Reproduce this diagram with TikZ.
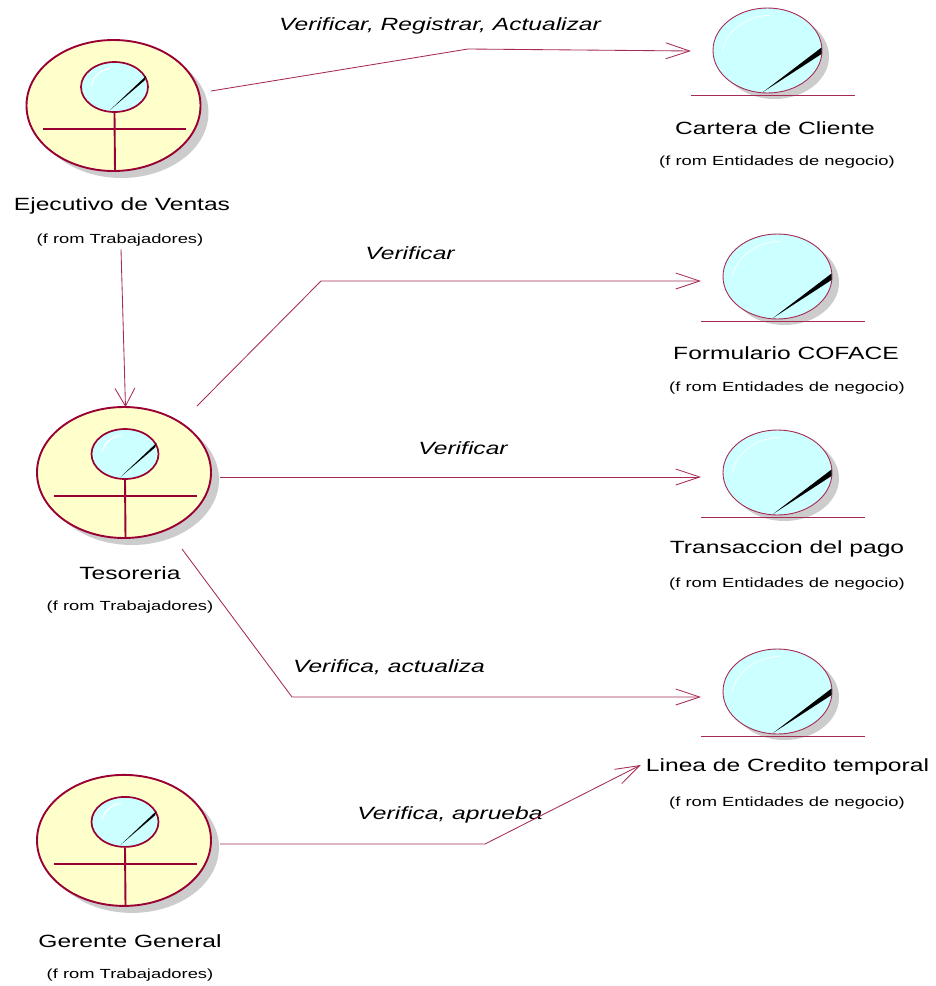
\documentclass[tikz,border=0pt]{standalone}
\usepackage{fontspec}
\setmainfont[FakeStretch=1.39]{Liberation Sans}
\usetikzlibrary{shapes.geometric,arrows.meta}
\definecolor{linec}{HTML}{990033}
\definecolor{thinc}{HTML}{A52A55}
\definecolor{yel}{HTML}{FFFFCC}
\definecolor{cya}{HTML}{CCFFFF}
\definecolor{shad}{HTML}{CCCCCC}
\tikzset{
  actorbody/.style={ellipse,draw=linec,line width=1.9pt,fill=yel,inner sep=0pt,minimum width=174pt,minimum height=131pt},
  actorhead/.style={ellipse,draw=linec,line width=1.7pt,fill=cya,inner sep=0pt,minimum width=67pt,minimum height=50pt},
  entitybody/.style={ellipse,draw=thinc,line width=0.9pt,fill=cya,inner sep=0pt,minimum width=109pt,minimum height=85pt},
  shadowshape/.style={ellipse,fill=shad,inner sep=0pt},
  limb/.style={draw=linec,line width=1.9pt},
  baseline/.style={draw=thinc,line width=1pt},
  conn/.style={draw=thinc,line width=0.85pt},
  connarrow/.style={conn,-{Straight Barb[length=24pt,width=16pt,line width=0.85pt]}},
  vertarrow/.style={conn,-{Straight Barb[length=18pt,width=20pt,line width=0.85pt]}},
  titletext/.style={font=\fontsize{17.7}{20}\selectfont,inner sep=0pt,anchor=center},
  fromtext/.style={font=\fontsize{13.2}{16}\selectfont,inner sep=0pt,anchor=center},
  rolelabel/.style={font=\itshape\fontsize{17.7}{20}\selectfont,inner sep=0pt,anchor=center},
}
% name, x, y of the body's centre
\newcommand{\actorfig}[3]{%
  \node[shadowshape,minimum width=174pt,minimum height=131pt] at (#2+8,#3+7) {};
  \node[actorbody] (#1) at (#2,#3) {};
  \node[actorhead] (#1h) at (#2+1,#3-18.5) {};
  \draw[white,line width=1.2pt] (#2-22,#3-20) .. controls (#2-20,#3-30) and (#2-12,#3-36) .. (#2-3,#3-37);
  \fill[black] (#2-3.5,#3+4.5) -- (#2+32.5,#3-29.5) -- (#2+31,#3-25) -- cycle;
  \draw[limb] (#2-70.5,#3+23.5) -- (#2+72.5,#3+23.5);
  \draw[limb] (#1h.south) -- (#2+1.5,#3+65.5);
}
\newcommand{\entityfig}[3]{%
  \node[shadowshape,minimum width=109pt,minimum height=85pt] at (#2+7,#3+6) {};
  \node[entitybody] (#1) at (#2,#3) {};
  \draw[white,line width=0.7pt] (#2-45,#3) .. controls (#2-42,#3-18) and (#2-22,#3-35) .. (#2+2,#3-35);
  \fill[black] (#2-4.5,#3+41.5) -- (#2+54,#3-3) -- (#2+54,#3+3.5) -- cycle;
  \draw[baseline] (#2-76.5,#3+44.5) -- (#2+87.5,#3+44.5);
}
\begin{document}
\begin{tikzpicture}[x=1pt,y=-1pt]
\useasboundingbox (0,0) rectangle (936,986);
\actorfig{aeje}{113.5}{105.5}
\actorfig{ates}{124}{472.5}
\actorfig{ager}{124}{840.4}
\entityfig{ecar}{767.5}{50.5}
\entityfig{efor}{777.5}{276.5}
\entityfig{etra}{777.5}{472.5}
\entityfig{elin}{777.5}{691.5}
\node[titletext] (teje) at (122,206) {Ejecutivo de Ventas};
\node[fromtext] (feje) at (120,240) {(f rom Trabajadores)};
\node[titletext] (ttes) at (130,573) {Tesoreria};
\node[fromtext] (ftes) at (130,607) {(f rom Trabajadores)};
\node[titletext] (tger) at (130,941) {Gerente General};
\node[fromtext] (fger) at (130,975) {(f rom Trabajadores)};
\node[titletext] (tcar) at (775,128) {Cartera de Cliente};
\node[fromtext] (fcar) at (777,162) {(f rom Entidades de negocio)};
\node[titletext] (tfor) at (786,353) {Formulario COFACE};
\node[fromtext] (ffor) at (787,388) {(f rom Entidades de negocio)};
\node[titletext] (ttra) at (787,549) {Transaccion del pago};
\node[fromtext] (ftra) at (787,584) {(f rom Entidades de negocio)};
\node[titletext] (tlin) at (787.5,767) {Linea de Credito temporal};
\node[fromtext] (flin) at (787,803) {(f rom Entidades de negocio)};
\node[rolelabel] (r1) at (440,26) {Verificar, Registrar, Actualizar};
\node[rolelabel] (r2) at (410,253) {Verificar};
\node[rolelabel] (r3) at (463,448) {Verificar};
\node[rolelabel] (r4) at (389,667) {Verifica, actualiza};
\node[rolelabel] (r5) at (450,815) {Verifica, aprueba};
\coordinate (b1) at (468,49);
\coordinate (b2) at (321,281);
\coordinate (b4) at (292,697);
\coordinate (b5) at (485,844);
\draw[connarrow] ([shift={(97.5,-14.5)}]aeje.center) -- (b1) -- ([shift={(-76.5,0.5)}]ecar.center);
\draw[vertarrow] (feje.south) ++(1,3) -- ([shift={(1.5,-65.5)}]ates.center);
\draw[connarrow] ([shift={(73,-66.5)}]ates.center) -- (b2) -- ([shift={(-76.5,4.5)}]efor.center);
\draw[connarrow] ([shift={(96,4.5)}]ates.center) -- ([shift={(-76.5,4.5)}]etra.center);
\draw[connarrow] ([shift={(58,76.5)}]ates.center) -- (b4) -- ([shift={(-76.5,5.5)}]elin.center);
\draw[connarrow] ([shift={(96,3.6)}]ager.center) -- (b5) -- ([shift={(-5,-2)}]tlin.west);
\end{tikzpicture}
\end{document}
